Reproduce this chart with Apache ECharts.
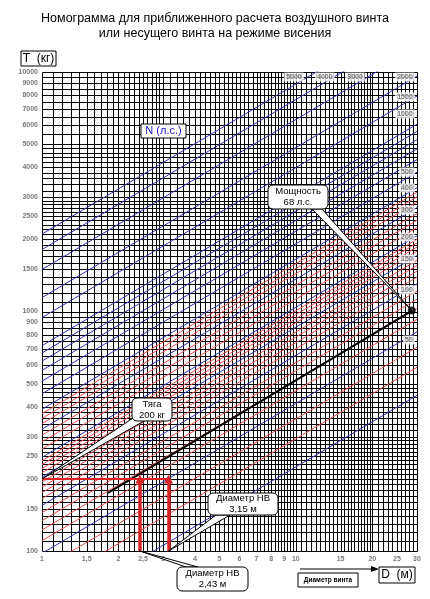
<!DOCTYPE html>
<html><head><meta charset="utf-8">
<script src="https://cdn.jsdelivr.net/npm/echarts@6/dist/echarts.min.js"></script>
<style>html,body{margin:0;padding:0;background:#fff}#c{width:430px;height:599px}</style>
</head><body><div id="c"></div>
<script>
// ---- axis ticks / labels ----
const xTickValues = [1, 1.5, 2, 2.5, 3, 4, 5, 6, 7, 8, 9, 10, 15, 20, 25, 30];
const xTickLabels = ['1', '1,5', '2', '2,5', '3', '4', '5', '6', '7', '8', '9', '10', '15', '20', '25', '30'];
const yTickValues = [10000, 9000, 8000, 7000, 6000, 5000, 4000, 3000, 2500, 2000, 1500, 1000, 900, 800, 700, 600, 500, 400, 300, 250, 200, 150, 100];
// grid line ranges [from, to, step]
const gridDRanges = [[1, 3, 0.1], [3, 6, 0.2], [6, 10, 0.25], [10, 20, 0.5], [20, 30, 1]];
const gridTRanges = [[100, 300, 10], [300, 500, 20], [500, 1000, 50], [1000, 3000, 100], [3000, 5000, 200], [5000, 10000, 500]];
// ---- power lines N (hp): thrust at D=1 m and at D=30 m ----
const blueN      = [20, 50, 100, 150, 200, 300, 400, 500, 600, 700, 800, 900, 1000, 1500, 2000, 3000, 4000, 5000];
const blueTatD1  = [53.1, 97.8, 155.1, 203.3, 246.3, 322.8, 391.0, 453.7, 512.3, 567.8, 620.7, 671.4, 720.1, 943.8, 1143.5, 1498.5, 1815.6, 2106];
const blueTatD30 = [446.6, 822, 1305, 1710, 2071, 2715, 3288, 3816, 4308, 4775, 5220, 5646, 6056, 7937, 9617, 12602, 15269, 17711];
const redN       = [30, 40, 60, 70, 80, 90, 110, 120, 130, 140, 160, 170, 180, 190, 225, 250, 275, 325, 350, 375];
const redTatD1   = [69.6, 84.3, 110.4, 122.4, 133.8, 144.7, 165.4, 175.3, 184.9, 194.2, 212.3, 221.0, 229.7, 238.1, 266.6, 285.9, 304.7, 340.6, 357.9, 374.7];
const redTatD30  = [585, 709, 928, 1029, 1125, 1217, 1391, 1474, 1555, 1633, 1785, 1859, 1932, 2002, 2242, 2404, 2563, 2865, 3010, 3151];
// line labels
const rightLabelText = ['2000', '1500', '1000', '500', '400', '300', '200', '150', '100', '50'];
const rightLabelT    = [9530, 7870, 6680, 3823, 3280, 2653, 2047, 1657, 1230, 760];
const topLabelText = ['5000', '4000', '3000'];
const topLabelD    = [9.83, 13.0, 17.1];
// example solution (68 hp)
const exampleLine = [[1.82, 175], [28.6, 1005]];
const powerPoint = [28.6, 1010];
const thrustLevel = [[1, 200], [3.15, 200]];
const diameterArrows = [2.43, 3.15];

(function () {
function rangeVals(r) {
  const out = [];
  r.forEach(([a, b, s]) => {
    for (let v = a; v <= b + 1e-9; v += s) {
      const vv = +v.toFixed(3);
      if (!out.includes(vv)) out.push(vv);
    }
  });
  return out;
}
const gridD = rangeVals(gridDRanges);
const gridT = rangeVals(gridTRanges);

const FONT = 'Liberation Sans, Arial, sans-serif';
const chart = echarts.init(document.getElementById('c'), null, {renderer: 'canvas'});
const small = {fontSize: 7, fontWeight: 'bold', color: '#555', fontFamily: FONT};

function nLine(t1, t30, color, z) {
  return {type: 'line', data: [[1, t1], [30, t30]], symbol: 'none', silent: true, clip: true, z,
          lineStyle: {color, width: 1}, emphasis: {disabled: true}};
}

const series = [];
redN.forEach((n, i) => series.push(nLine(redTatD1[i], redTatD30[i], '#e65050', 2)));
blueN.forEach((n, i) => series.push(nLine(blueTatD1[i], blueTatD30[i], '#3333b0', 3)));
series.push(
  {type: 'line', data: exampleLine, symbol: 'none', silent: true, z: 4, lineStyle: {color: '#000', width: 2}},
  {type: 'line', data: thrustLevel, symbol: 'none', silent: true, z: 5, lineStyle: {color: '#e02020', width: 2}},
  {type: 'lines', coordinateSystem: 'cartesian2d', silent: true, z: 6,
   symbol: ['none', 'triangle'], symbolSize: 9,
   lineStyle: {color: '#d42424', width: 3.5, opacity: 1},
   data: diameterArrows.map(d => ({coords: [[d, 100], [d, 200]]}))},
  {type: 'scatter', z: 7, symbol: 'circle', symbolSize: 8, itemStyle: {color: '#000'}, data: [powerPoint], clip: false},
  {type: 'scatter', z: 8, symbolSize: 0, clip: false, silent: true,
   data: rightLabelT.map((t, i) => ({value: [29.4, t], name: rightLabelText[i]})),
   label: {show: true, position: 'left', distance: 0, formatter: p => p.name, backgroundColor: '#fff', padding: [1, 2], ...small}},
  {type: 'scatter', z: 8, symbolSize: 0, clip: false, silent: true,
   data: topLabelD.map((d, i) => ({value: [d, 9530], name: topLabelText[i]})),
   label: {show: true, position: 'inside', formatter: p => p.name, backgroundColor: '#fff', padding: [1, 2], ...small}},
  {type: 'scatter', z: 8, symbolSize: 0, clip: false, silent: true,
   data: xTickValues.map((v, i) => ({value: [v, 100], name: xTickLabels[i]})),
   label: {show: true, position: 'bottom', distance: 5, formatter: p => p.name, ...small}},
  {type: 'scatter', z: 8, symbolSize: 0, clip: false, silent: true,
   data: yTickValues.map(v => ({value: [1, v], name: String(v)})),
   label: {show: true, position: 'left', distance: 4, formatter: p => p.name, ...small}}
);

chart.setOption({
  animation: false,
  backgroundColor: '#fff',
  title: {
    text: 'Номограмма для приближенного расчета воздушного винта\nили несущего винта на режиме висения',
    left: 'center', top: 6,
    textStyle: {fontSize: 12.5, fontWeight: 'normal', color: '#000', fontFamily: FONT, lineHeight: 15}
  },
  grid: {left: 42, right: 13, top: 72, bottom: 48},
  xAxis: {type: 'log', logBase: 10, min: 1, max: 30, axisLine: {show: false}, axisTick: {show: false},
          axisLabel: {show: false}, splitLine: {show: false}},
  yAxis: {type: 'log', logBase: 10, min: 100, max: 10000, axisLine: {show: false}, axisTick: {show: false},
          axisLabel: {show: false}, splitLine: {show: false}},
  series
});

function px(pt) { return chart.convertToPixel({xAxisIndex: 0, yAxisIndex: 0}, pt); }
const crisp = v => Math.round(v) + 0.5;

const elems = [];
const pTop = px([1, 10000])[1], pBottom = px([1, 100])[1];
const pLeft = px([1, 100])[0], pRight = px([30, 100])[0];
gridD.forEach(d => {
  const x = crisp(px([d, 100])[0]);
  elems.push({type: 'line', z: 1, silent: true, shape: {x1: x, y1: crisp(pTop), x2: x, y2: crisp(pBottom)}, style: {stroke: '#000', lineWidth: 1}});
});
gridT.forEach(t => {
  const y = crisp(px([1, t])[1]);
  elems.push({type: 'line', z: 1, silent: true, shape: {x1: crisp(pLeft), y1: y, x2: crisp(pRight), y2: y}, style: {stroke: '#000', lineWidth: 1}});
});

function callout(box, lines, base, target) {
  const [x, y, w, h] = box;
  return [
    {type: 'polygon', z: 100, shape: {points: [base[0], base[1], target]}, style: {fill: '#fff', stroke: '#000', lineWidth: 1}},
    {type: 'rect', z: 101, shape: {x, y, width: w, height: h, r: 5}, style: {fill: '#fff', stroke: '#000', lineWidth: 1}},
    {type: 'text', z: 103, style: {text: lines.join('\n'), x: x + w / 2, y: y + h / 2, align: 'center',
       verticalAlign: 'middle', fontSize: 9.5, lineHeight: 11, fill: '#000', fontFamily: FONT}}
  ];
}
elems.push(...callout([132, 398, 40, 23], ['Тяга', '200 кг'], [[136, 416], [144, 421]], px([1, 200])));
elems.push(...callout([268, 185, 60, 24], ['Мощность', '68 л.с.'], [[312, 209], [322, 209]], px(powerPoint)));
elems.push(...callout([208, 493, 70, 22], ['Диаметр НВ', '3,15 м'], [[216, 515], [230, 515]], px([3.15, 100])));
elems.push(...callout([177, 567, 71, 24], ['Диаметр НВ', '2,43 м'], [[186, 567], [198, 567]], px([2.43, 100])));
// axis name boxes
elems.push({type: 'rect', z: 110, shape: {x: 21, y: 51, width: 35, height: 15}, style: {fill: '#fff', stroke: '#000', lineWidth: 1}});
elems.push({type: 'text', z: 111, style: {text: 'T  (кг)', x: 38.5, y: 58.5, align: 'center', verticalAlign: 'middle', fontSize: 12, fill: '#000', fontFamily: FONT}});
elems.push({type: 'rect', z: 110, shape: {x: 141, y: 124, width: 45, height: 14}, style: {fill: '#fff', stroke: '#000', lineWidth: 1}});
elems.push({type: 'text', z: 111, style: {text: 'N (л.с.)', x: 163.5, y: 131, align: 'center', verticalAlign: 'middle', fontSize: 11, fill: '#1a1acc', fontFamily: FONT}});
elems.push({type: 'rect', z: 110, shape: {x: 298, y: 573, width: 60, height: 14}, style: {fill: '#fff', stroke: '#000', lineWidth: 1}});
elems.push({type: 'text', z: 111, style: {text: 'Диаметр винта', x: 328, y: 580, align: 'center', verticalAlign: 'middle', fontSize: 6.5, fontWeight: 'bold', fill: '#000', fontFamily: FONT}});
elems.push({type: 'rect', z: 110, shape: {x: 379, y: 567, width: 36, height: 16}, style: {fill: '#fff', stroke: '#000', lineWidth: 1}});
elems.push({type: 'text', z: 111, style: {text: 'D  (м)', x: 397, y: 575, align: 'center', verticalAlign: 'middle', fontSize: 12, fill: '#000', fontFamily: FONT}});
elems.push({type: 'line', z: 110, shape: {x1: 300, y1: 569, x2: 372, y2: 569}, style: {stroke: '#000', lineWidth: 1}});
elems.push({type: 'polygon', z: 110, shape: {points: [[379, 569], [371, 566], [371, 572]]}, style: {fill: '#000'}});

chart.setOption({graphic: {elements: elems}});
})();
</script>
</body></html>
